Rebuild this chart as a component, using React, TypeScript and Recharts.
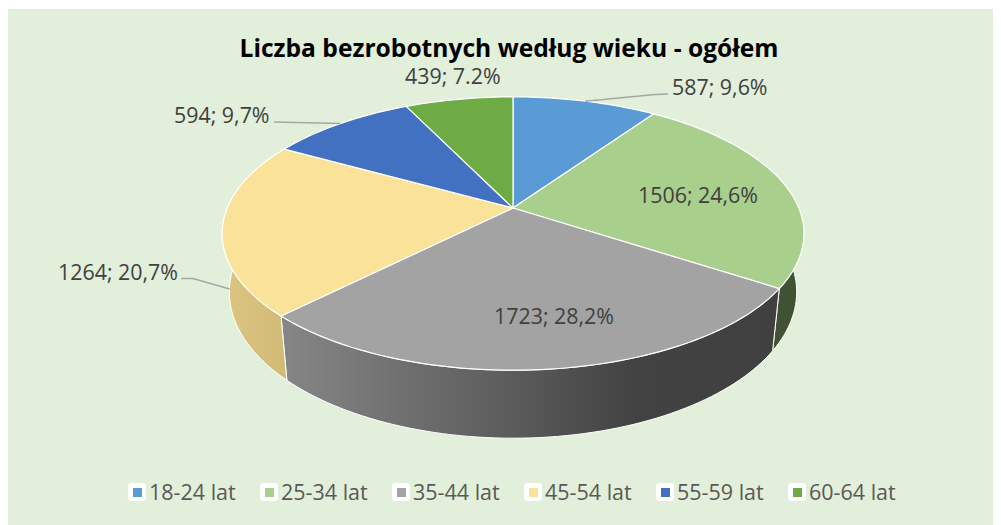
import React from "react";
import { PieChart, Pie, Legend } from "recharts";

const categories = ["18-24 lat", "25-34 lat", "35-44 lat", "45-54 lat", "55-59 lat", "60-64 lat"];
const counts = [587, 1506, 1723, 1264, 594, 439];
const shareLabels = ["9,6%", "24,6%", "28,2%", "20,7%", "9,7%", "7.2%"];
const topColors = ["#5B9BD5", "#A9CF8C", "#A3A3A3", "#FBE299", "#4371C1", "#6FAB45"];
const wallColors = ["#37608A", "#3F5233", "url(#grayWall)", "url(#yellowWall)", "#2A4579", "#43692B"];

const chartData = categories.map((name, i) => ({ name, value: counts[i], fill: topColors[i], wall: wallColors[i] }));

const WIDTH = 993;
const HEIGHT = 516;
const CX = 505;
const CY = 199;
const RADIUS = 285.8;
const FONT = "'Open Sans', sans-serif";

// perspective projection of the pie's plane
const K = 0.187;
const SQUASH = 0.4614;
const project = (cx: number, cy: number, r: number, angle: number) => {
  const t = ((90 - angle) * Math.PI) / 180;
  const u = Math.sin(t);
  const v = -Math.cos(t);
  const w = 1 - K * v;
  return { x: cx + (r * u) / w, y: cy + (r * SQUASH * v) / w };
};
const projectRim = (cx: number, cy: number, r: number, angle: number) => {
  const p = project(cx, cy, r, angle);
  const bottom = cy + (r * SQUASH) / (1 - K);
  return { x: cx + (p.x - cx) * 0.975, y: p.y + 68 - (bottom - p.y) * 0.07 };
};
const samples = (a: number, b: number) => {
  const n = Math.max(2, Math.ceil(Math.abs(b - a) / 1.5));
  return Array.from({ length: n + 1 }, (_, i) => a + ((b - a) * i) / n);
};
const toPath = (pts: { x: number; y: number }[]) =>
  pts.map((p, i) => `${i ? "L" : "M"}${p.x.toFixed(2)} ${p.y.toFixed(2)}`).join(" ") + " Z";

const TopFace = (p: any) => {
  const pts = samples(p.startAngle, p.endAngle).map((a) => project(p.cx, p.cy, p.outerRadius, a));
  return <path d={toPath([{ x: p.cx, y: p.cy }, ...pts])} fill={p.fill} stroke="#FFFFFF" strokeWidth={1.2} strokeLinejoin="round" />;
};
const WallFace = (p: any) => {
  const as = samples(p.startAngle, p.endAngle);
  const top = as.map((a) => project(p.cx, p.cy, p.outerRadius, a));
  const rim = as.slice().reverse().map((a) => projectRim(p.cx, p.cy, p.outerRadius, a));
  return <path d={toPath([...top, ...rim])} fill={p.wall} stroke="#FFFFFF" strokeWidth={1} strokeLinejoin="round" />;
};

// label placement: text anchor point (chart space), then optional leader elbow
const labelLayout: { x: number; y: number; elbow?: [number, number][]; rim?: boolean }[] = [
  { x: 664, y: 77, elbow: [[647, 85.5], [660, 85]] },
  { x: 630, y: 185 },
  { x: 486, y: 306 },
  { x: 50, y: 262, elbow: [[185, 269.5], [173, 269.5]], rim: true },
  { x: 166, y: 105, elbow: [[266, 113]] },
  { x: 397, y: 66 },
];

const renderLabel = (p: any) => {
  const i = p.index;
  const l = labelLayout[i];
  const mid = p.midAngle;
  const a = l.rim ? projectRim(p.cx, p.cy, p.outerRadius, mid) : project(p.cx, p.cy, p.outerRadius, mid);
  return (
    <g>
      {l.elbow && (
        <polyline
          points={[[a.x, a.y + (l.rim ? 4 : 0)], ...l.elbow].map((q: any) => q.join(",")).join(" ")}
          fill="none"
          stroke="#A6A6A6"
          strokeWidth={1.5}
        />
      )}
      <text x={l.x} y={l.y} fill="#404040" fontFamily={FONT} fontSize={21.4} dominantBaseline="central" textAnchor="start">
        {`${counts[i]}; ${shareLabels[i]}`}
      </text>
    </g>
  );
};

const renderLegend = (props: any) => {
  const items = (props.payload || []).filter(
    (e: any, i: number, all: any[]) => all.findIndex((o: any) => o.value === e.value) === i
  );
  return (
    <div style={{ position: "relative", width: WIDTH, height: 24 }}>
      {items.map((e: any, i: number) => (
        <div key={e.value} style={{ position: "absolute", left: 120 + i * 132, top: 0, display: "flex", alignItems: "center", height: 18 }}>
          <span style={{ width: 18, height: 18, background: "#FFFFFF", borderRadius: 3, display: "flex", alignItems: "center", justifyContent: "center" }}>
            <span style={{ width: 9, height: 9, background: e.color, display: "block" }} />
          </span>
          <span style={{ marginLeft: 3, fontFamily: FONT, fontSize: 21.5, color: "#595959", whiteSpace: "nowrap", lineHeight: "18px" }}>{e.value}</span>
        </div>
      ))}
    </div>
  );
};

export default function App() {
  return (
    <div style={{ width: WIDTH, height: HEIGHT, marginTop: 1, background: "#E2EFDA" }}>
      <PieChart width={WIDTH} height={HEIGHT} margin={{ top: 0, right: 0, bottom: 0, left: 0 }}>
        <defs>
          <linearGradient id="grayWall" gradientUnits="userSpaceOnUse" x1={280} y1={0} x2={765} y2={0}>
            <stop offset="0" stopColor="#858585" />
            <stop offset="0.45" stopColor="#5C5C5C" />
            <stop offset="0.72" stopColor="#424242" />
            <stop offset="1" stopColor="#404040" />
          </linearGradient>
          <linearGradient id="yellowWall" gradientUnits="userSpaceOnUse" x1={215} y1={0} x2={280} y2={0}>
            <stop offset="0" stopColor="#DCC582" />
            <stop offset="1" stopColor="#D1BA75" />
          </linearGradient>
        </defs>
        <text x={501} y={48} textAnchor="middle" fontFamily={FONT} fontWeight={700} fontSize={24.6} fill="#000000">
          Liczba bezrobotnych według wieku - ogółem
        </text>
        <Pie
          data={chartData}
          dataKey="value"
          nameKey="name"
          cx={CX}
          cy={CY}
          outerRadius={RADIUS}
          startAngle={90}
          endAngle={-270}
          legendType="none"
          isAnimationActive={false}
          shape={WallFace}
          label={false}
          labelLine={false}
        />
        <Pie
          data={chartData}
          dataKey="value"
          nameKey="name"
          cx={CX}
          cy={CY}
          outerRadius={RADIUS}
          startAngle={90}
          endAngle={-270}
          isAnimationActive={false}
          shape={TopFace}
          label={renderLabel}
          labelLine={false}
        />
        <Legend content={renderLegend} wrapperStyle={{ left: 0, top: 474, width: WIDTH }} />
      </PieChart>
    </div>
  );
}
